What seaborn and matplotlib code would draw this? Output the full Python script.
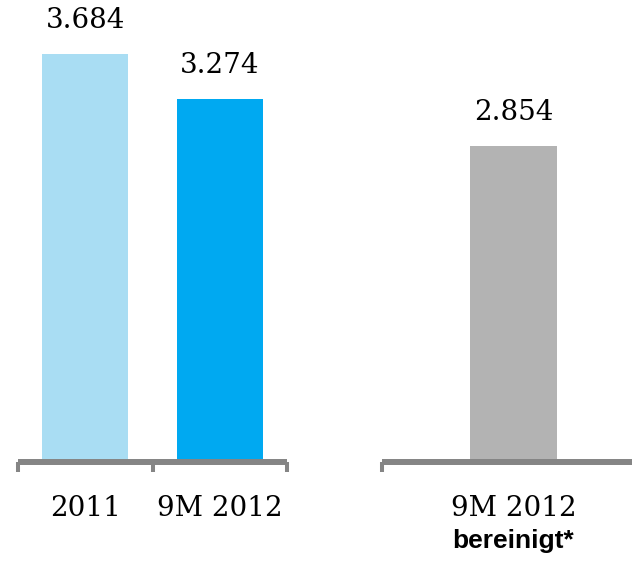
import matplotlib
matplotlib.use("Agg")
import matplotlib.pyplot as plt
import seaborn as sns
import pandas as pd

# ---- data ----
categories_left = ["2011", "9M 2012"]
values_left = [3684, 3274]
colors_left = ["#A9DDF3", "#00A9F1"]

categories_right = ["9M 2012"]
values_right = [2854]
colors_right = ["#B3B3B3"]
sublabel_right = "bereinigt*"

def fmt(v):
    return f"{v:,}".replace(",", ".")

sns.set_style("white")
plt.rcParams["font.family"] = ["DejaVu Serif"]

W, H = 632, 562
fig = plt.figure(figsize=(W / 100, H / 100), dpi=100)

base_px = 462
ymax = 4170
spine_col = "#858585"

ax_l = fig.add_axes([18 / W, (H - base_px) / H, 269 / W, base_px / H])
ax_r = fig.add_axes([382 / W, (H - base_px) / H, 263 / W, base_px / H])

df_l = pd.DataFrame({"cat": categories_left, "val": values_left})
df_r = pd.DataFrame({"cat": categories_right, "val": values_right})

sns.barplot(data=df_l, x="cat", y="val", hue="cat", palette=colors_left,
            width=0.64, legend=False, ax=ax_l, saturation=1, linewidth=0)
sns.barplot(data=df_r, x="cat", y="val", hue="cat", palette=colors_right,
            width=0.331, legend=False, ax=ax_r, saturation=1, linewidth=0)

for ax, n, vals in [(ax_l, 2, values_left), (ax_r, 1, values_right)]:
    ax.set_xlim(-0.5, n - 0.5)
    ax.set_ylim(0, ymax)
    ax.patch.set_alpha(0)
    for s in ["top", "right", "left"]:
        ax.spines[s].set_visible(False)
    ax.spines["bottom"].set_color(spine_col)
    ax.spines["bottom"].set_linewidth(4.3)
    ax.spines["bottom"].set_capstyle("butt")
    ax.set_yticks([])
    ax.set_xlabel("")
    ax.set_ylabel("")
    ax.set_xticks([i - 0.5 for i in range(n + 1)], minor=True)
    ax.tick_params(axis="x", which="minor", bottom=True, length=7, width=2.9,
                   color=spine_col, direction="out")
    ax.tick_params(axis="x", which="major", bottom=False, length=0, pad=24,
                   labelsize=20, labelcolor="black")
    for i, v in enumerate(vals):
        ax.annotate(fmt(v), xy=(i, v), xytext=(0, 24),
                    textcoords="offset points", ha="center", va="center",
                    fontsize=20, color="black")

ax_r.annotate(sublabel_right, xy=(0, 0), xycoords=ax_r.get_xaxis_transform(),
              xytext=(0, -57), textcoords="offset points", ha="center",
              va="center", fontsize=19, fontweight="bold",
              family=["Liberation Sans", "DejaVu Sans"], color="black")

fig.savefig("out.png", dpi=100)
